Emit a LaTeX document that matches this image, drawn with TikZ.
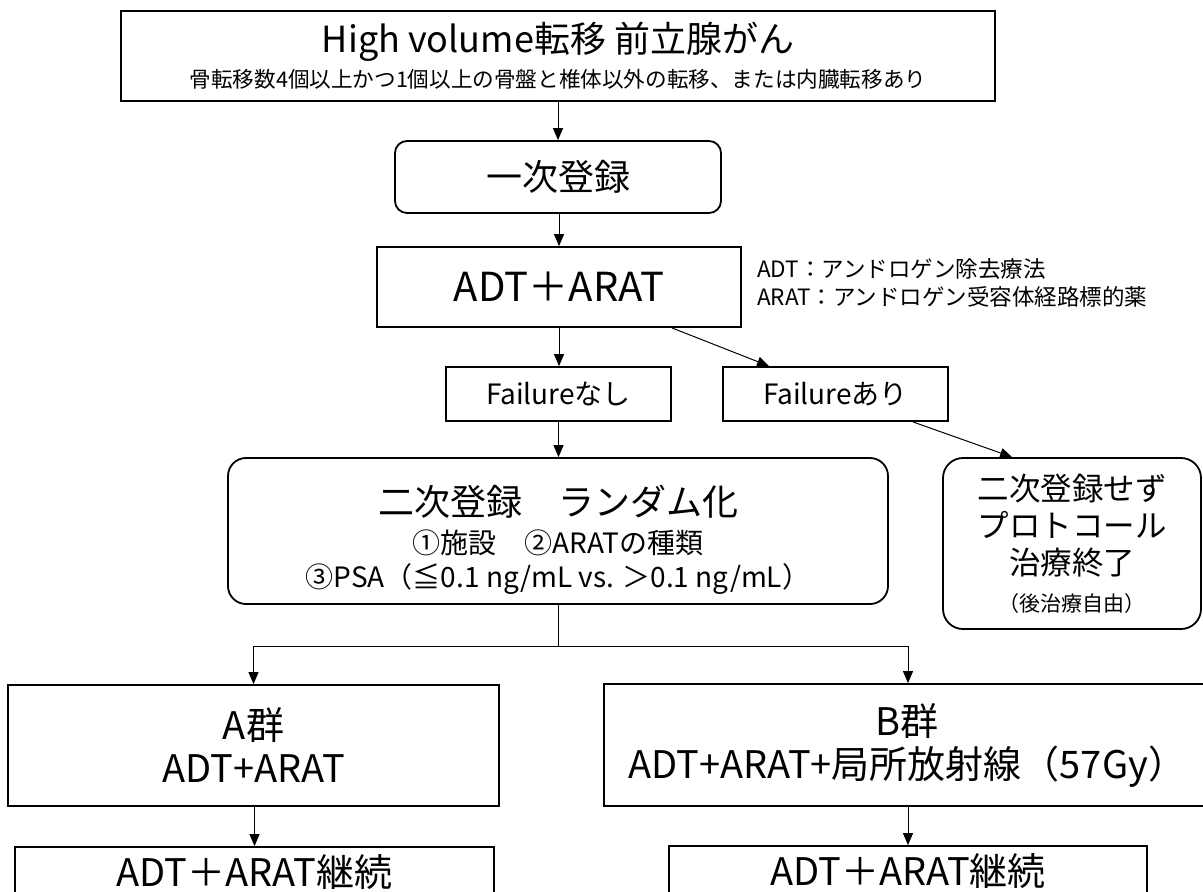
\documentclass[tikz,border=0pt]{standalone}
\usepackage{fontspec}
\setmainfont{Noto Sans CJK JP}
\usetikzlibrary{arrows.meta,calc}
\newcommand\fsz[2]{\fontsize{#1}{#2}\selectfont}
\begin{document}
\begin{tikzpicture}[x=1pt,y=-1pt,
  box/.style={draw, line width=1.8pt, inner sep=0pt, align=center, text=black},
  rbox/.style={box, rounded corners=#1},
  conn/.style={line width=1pt, -{Triangle[length=12pt,width=10pt]}},
  ]
\useasboundingbox (0,0) rectangle (1203,892);
% boxes
\node[box, minimum width=874pt, minimum height=90pt, font=\fsz{21.6}{35}] (top) at (558,56)
  {{\fsz{36}{40}High volume転移 前立腺がん}\\骨転移数4個以上かつ1個以上の骨盤と椎体以外の転移、または内臓転移あり};
\node[rbox=12pt, minimum width=326pt, minimum height=72pt, font=\fsz{36}{40}] (p1) at (558,177) {一次登録};
\node[box, minimum width=364pt, minimum height=80pt, font=\fsz{40}{44}] (adt) at (559,287) {ADT＋ARAT};
\node[anchor=west, align=left, inner sep=0pt, font=\fsz{22.5}{28}] (note) at (757,283)
  {ADT：アンドロゲン除去療法\\ARAT：アンドロゲン受容体経路標的薬};
\node[box, minimum width=225pt, minimum height=54pt, font=\fsz{28}{32}] (fn) at (558.5,394) {Failureなし};
\node[box, minimum width=225pt, minimum height=54pt, font=\fsz{28}{32}] (fa) at (835.5,394) {Failureあり};
\node[rbox=18pt, minimum width=660pt, minimum height=146pt, font=\fsz{28}{34}] (p2) at (558,531)
  {{\fsz{36}{40}\rule{0pt}{47pt}二次登録　ランダム化}\\[4pt]①施設　②ARATの種類\\③PSA（≦0.1 ng/mL vs. ＞0.1 ng/mL）};
\node[rbox=20pt, minimum width=258pt, minimum height=171pt, font=\fsz{31.5}{37}] (ns) at (1072,543.5)
  {二次登録せず\\プロトコール\\治療終了\\{\fsz{21}{26}（後治療自由）}};
\node[box, minimum width=491pt, minimum height=121pt, font=\fsz{38}{43}] (A) at (253.5,745.5)
  {A群\\ADT+ARAT};
\node[box, minimum width=606pt, minimum height=122pt, font=\fsz{38}{43}] (B) at (907,745)
  {B群\\ADT+ARAT+局所放射線（57Gy）};
\node[box, minimum width=479pt, minimum height=50pt, font=\fsz{38}{43}] (Ac) at (254.5,872) {ADT＋ARAT継続};
\node[box, minimum width=478pt, minimum height=50pt, font=\fsz{38}{43}] (Bc) at (908,871) {ADT＋ARAT継続};
% connectors
\draw[conn] (top.south) -- (p1.north);
\draw[conn] (p1.south) -- (adt.south |- p1.south) -- (adt.north);
\draw[conn] (adt.south) -- (adt.south |- fn.north);
\draw[conn] (adt.south -| fn.east) -- ([xshift=47pt]fa.north west);
\draw[conn] ([xshift=-36pt]fa.south east) -- ([xshift=70pt]ns.north west);
\draw[conn] (fn.south) -- (fn.south |- p2.north);
\coordinate (split) at ($(p2.south)+(0,42)$);
\draw[conn] (p2.south) -- (split) -| (A.north);
\draw[conn] (split) -| (Bc.north |- B.north);
\draw[conn] (Ac.north |- A.south) -- (Ac.north);
\draw[conn] (Bc.north |- B.south) -- (Bc.north);
\end{tikzpicture}
\end{document}
